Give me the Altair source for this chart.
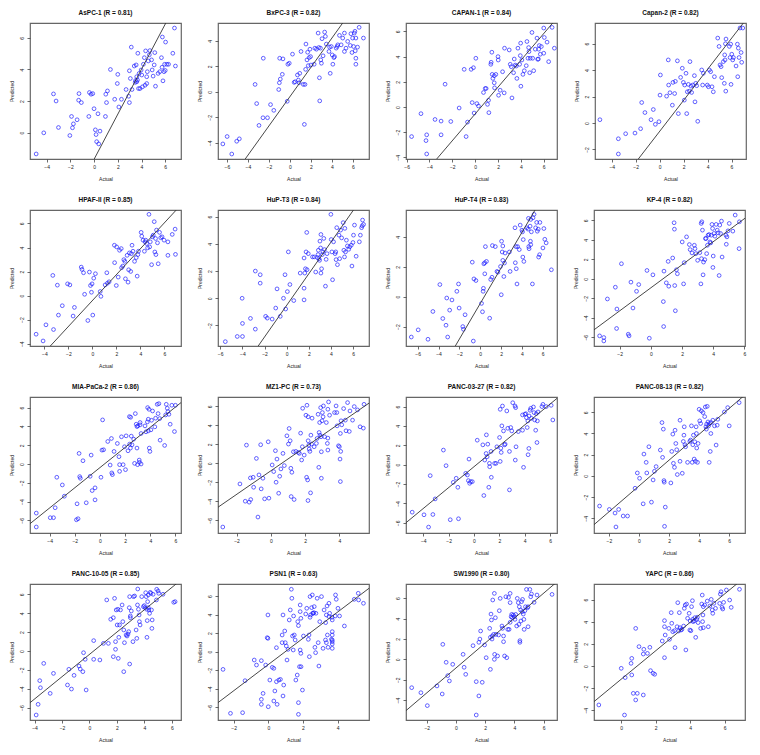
import altair as alt
import pandas as pd

NAMES = ["AsPC-1", "BxPC-3", "CAPAN-1", "Capan-2",
         "HPAF-II", "HuP-T3", "HuP-T4", "KP-4",
         "MIA-PaCa-2", "MZ1-PC", "PANC-03-27", "PANC-08-13",
         "PANC-10-05", "PSN1", "SW1990", "YAPC"]
R_VALUES = ["0.81", "0.82", "0.84", "0.82", "0.85", "0.84", "0.83", "0.82",
            "0.86", "0.73", "0.82", "0.82", "0.85", "0.63", "0.80", "0.86"]
X_DOMAINS = [[-5.4, 7.33], [-6.84, 7.53], [-6.05, 7.16], [-5.4, 7.21],
             [-5.2, 7.38], [-6.2, 7.43], [-7.12, 7.37], [-3.65, 6.04],
             [-5.56, 6.44], [-3.08, 5.73], [-5.36, 6.55], [-2.99, 7.05],
             [-4.33, 6.67], [-2.9, 5.81], [-3.42, 6.92], [-1.58, 7.18]]
Y_DOMAINS = [[-1.68, 6.95], [-5.26, 5.39], [-4.13, 6.67], [-2.72, 7.56],
             [-4.19, 7.12], [-3.51, 6.49], [-3.3, 5.8], [-6.9, 7.07],
             [-7.35, 7.14], [-7.34, 6.99], [-7.05, 6.99], [-5.38, 7.44],
             [-7.31, 7.1], [-7.37, 7.3], [-5.95, 7.39], [-4.88, 7.41]]
INTERCEPTS = [-1.7, -0.38, -0.55, -0.63, -0.41, -0.52, -0.46, -0.92,
              -0.38, -0.79, -0.21, -0.95, -0.36, -1.39, -0.85, -1.19]
SLOPES = [1.43, 1.148, 1.064, 1.172, 1.078, 1.163, 1.189, 1.183,
          1.075, 1.245, 1.078, 1.219, 1.182, 1.416, 1.222, 1.284]

ASPC1 = [[-4.88,-1.36],[-4.24,-0.02],[-3.42,2.45],[-3.2,2.0],[-3.0,0.32],[-2.04,-0.19],[-1.9,1.02],[-1.82,0.3],
         [-1.74,0.55],[-1.43,0.81],[-1.27,2.47],[-1.3,2.05],[-1.07,1.9],[-0.44,1.02],[-0.39,2.54],[-0.25,2.43],
         [-0.11,2.47],[0.0,1.51],[0.11,0.17],[0.17,-0.13],[0.22,-0.58],[0.33,1.19],[0.39,-0.72],[0.5,0.09],
         [0.96,1.02],[0.99,2.43],[1.05,1.9],[1.13,2.64],[1.38,4.0],[1.74,2.11],[1.96,3.11],[2.0,3.69],
         [2.09,1.62],[2.31,2.11],[2.7,2.73],[2.92,2.3],[2.98,1.9],[2.98,3.92],[3.06,3.43],[3.14,5.42],
         [3.2,2.73],[3.39,4.22],[3.47,3.18],[3.55,4.29],[3.6,3.54],[3.66,3.33],[3.69,5.03],[3.75,2.79],
         [3.8,3.75],[3.88,2.79],[3.97,3.97],[4.02,3.65],[4.08,2.9],[4.16,4.33],[4.24,4.75],[4.3,3.0],
         [4.35,5.18],[4.44,3.54],[4.44,3.11],[4.49,3.86],[4.57,4.54],[4.66,4.93],[4.71,5.2],[4.85,4.61],
         [4.9,3.97],[4.98,3.58],[5.07,4.29],[5.12,5.07],[5.18,2.94],[5.4,3.75],[5.54,3.86],[5.68,4.75],
         [5.73,4.14],[5.76,6.06],[5.81,3.28],[5.9,3.86],[5.95,4.33],[6.0,3.94],[6.03,5.74],[6.14,4.33],
         [6.28,4.33],[6.64,5.03],[6.78,6.63],[6.86,4.22],[3.6,3.22],[3.5,3.3]]
BXPC3 = [[-6.38,-4.08],[-5.97,-3.5],[-5.53,-4.87],[-5.06,-3.87],[-4.81,-3.68],[-3.31,0.58],[-3.16,-0.92],
         [-2.94,-2.63],[-2.56,-2.03],[-2.53,2.63],[-2.13,-2.03],[-1.84,-1.0],[-1.53,-1.45],[-1.06,0.18],
         [-1.0,0.71],[-0.97,2.63],[-0.91,1.0],[-0.72,1.37],[-0.66,2.58],[-0.25,-0.74],[-0.19,2.16],[-0.06,2.24],
         [0.25,2.95],[0.41,0.74],[0.5,0.79],[0.72,1.32],[0.81,0.92],[0.88,0.71],[0.94,1.45],[1.06,3.16],
         [1.28,0.58],[1.38,-2.55],[1.44,0.58],[1.5,1.76],[1.53,3.74],[1.63,2.5],[1.69,3.1],[1.75,2.05],
         [1.84,2.68],[1.91,3.34],[1.97,2.76],[2.0,2.1],[2.31,2.16],[2.38,3.42],[2.53,3.34],[2.69,4.6],
         [2.75,3.47],[2.81,1.1],[2.84,-0.71],[2.91,3.42],[2.94,2.5],[3.0,2.24],[3.06,4.16],[3.16,2.82],
         [3.31,4.68],[3.38,4.34],[3.47,3.74],[3.72,3.16],[3.78,3.5],[3.84,1.45],[3.94,3.55],[4.03,2.89],
         [4.09,2.16],[4.19,2.68],[4.25,2.76],[4.41,3.42],[4.5,3.55],[4.56,3.68],[4.72,4.42],[4.88,3.68],
         [5.03,4.21],[5.19,4.6],[5.19,3.16],[5.34,3.42],[5.5,3.95],[5.75,3.63],[5.81,4.55],[5.91,3.08],
         [5.97,4.21],[6.06,3.55],[6.13,4.6],[6.19,4.74],[6.22,3.21],[6.28,2.63],[6.28,2.16],[6.28,4.21],
         [6.44,3.5],[6.59,5.05],[7.0,4.21]]
CAPAN1 = [[-5.56,-2.35],[-4.74,-0.53],[-4.3,-2.67],[-4.24,-2.21],[-4.24,-3.73],[-3.51,-0.99],[-2.98,-1.12],
          [-2.98,-2.21],[-2.63,1.81],[-2.13,-1.15],[-1.4,-0.08],[-0.96,2.99],[-0.79,-2.35],[-0.67,-1.2],
          [-0.35,2.99],[-0.26,0.35],[-0.15,3.12],[-0.09,-0.48],[0.06,3.87],[0.15,0.27],[0.29,0.08],[0.73,1.15],
          [0.88,1.47],[0.96,1.47],[1.08,0.21],[1.17,0.53],[1.2,-0.45],[1.37,3.39],[1.4,3.55],[1.46,4.35],
          [1.49,2.59],[1.55,2.27],[1.67,2.48],[1.67,1.92],[1.7,1.52],[1.81,2.59],[2.0,4.0],[2.02,3.73],
          [2.05,0.93],[2.19,1.33],[2.4,2.8],[2.54,1.12],[2.57,4.67],[2.98,4.53],[3.07,3.39],[3.16,3.2],
          [3.22,0.72],[3.36,2.72],[3.42,3.81],[3.51,3.33],[3.6,3.25],[3.65,2.27],[3.74,4.67],[3.89,3.39],
          [3.95,4.08],[3.98,5.07],[4.0,1.65],[4.09,3.73],[4.18,2.59],[4.3,2.88],[4.47,3.28],[4.53,5.2],
          [4.62,3.87],[4.68,4.72],[4.71,4.4],[4.77,2.72],[4.82,3.87],[4.97,5.92],[5.03,3.87],[5.12,2.88],
          [5.26,4.59],[5.41,5.47],[5.47,3.79],[5.53,3.81],[5.56,4.59],[5.61,4.88],[5.7,4.19],[5.79,4.8],
          [6.0,4.27],[6.0,6.27],[6.05,5.52],[6.29,5.15],[6.43,3.6],[6.73,6.32],[6.93,4.67]]
CAPAN2 = [[-4.99,0.25],[-3.45,-1.19],[-3.45,-2.34],[-2.84,-0.81],[-2.06,-0.76],[-1.59,-0.43],[-1.5,1.55],
          [-1.23,0.79],[-0.72,0.25],[-0.53,1.02],[-0.36,-0.1],[-0.06,0.1],[0.03,2.11],[0.06,3.63],[0.58,2.03],
          [0.72,4.77],[0.75,2.87],[0.86,2.29],[1.06,1.35],[1.11,3.07],[1.25,2.23],[1.31,3.15],[1.48,4.7],
          [1.56,0.71],[1.75,3.45],[1.89,4.14],[1.98,3.07],[2.06,1.73],[2.09,2.87],[2.2,3.76],[2.26,0.71],
          [2.31,2.36],[2.4,2.92],[2.48,2.41],[2.53,4.64],[2.62,2.79],[2.67,2.31],[2.76,2.87],[2.9,3.58],
          [2.95,1.6],[3.01,3.0],[3.09,2.82],[3.18,0.13],[3.51,4.01],[3.59,2.87],[3.65,3.76],[3.98,2.87],
          [4.07,2.74],[4.15,4.01],[4.26,3.88],[4.37,2.74],[4.48,2.36],[4.57,3.5],[4.85,6.42],[4.96,5.79],
          [5.04,4.39],[5.13,4.26],[5.18,3.43],[5.32,4.64],[5.4,3.0],[5.43,5.15],[5.46,4.77],[5.49,5.99],
          [5.52,2.41],[5.54,6.35],[5.82,5.79],[5.88,4.95],[5.93,5.96],[5.96,2.92],[6.02,5.2],[6.1,4.77],
          [6.16,4.95],[6.38,4.31],[6.49,5.96],[6.52,3.5],[6.57,5.66],[6.63,4.95],[6.71,7.18],[6.8,5.33],
          [6.85,4.59],[6.94,7.18]]
HPAF2 = [[-4.69,-3.21],[-4.11,-3.77],[-3.87,-2.43],[-3.3,1.68],[-3.24,-2.82],[-2.92,0.87],[-2.83,-1.62],
         [-2.51,-0.84],[-2.07,0.98],[-1.88,0.89],[-1.61,-1.7],[-1.5,-0.98],[-0.93,2.37],[-0.87,2.18],
         [-0.74,1.9],[-0.65,0.11],[-0.38,-2.07],[-0.25,1.96],[-0.16,0.84],[-0.08,0.28],[-0.03,0.98],
         [0.03,-1.62],[0.11,1.45],[0.25,1.82],[0.65,0.34],[0.71,-0.06],[1.06,0.89],[1.2,1.9],[1.25,1.03],
         [1.39,1.15],[1.85,2.74],[1.83,4.19],[1.99,0.84],[2.02,4.05],[2.15,1.54],[2.26,3.77],[2.4,3.91],
         [2.43,2.32],[2.53,2.46],[2.62,2.99],[2.7,2.85],[2.75,1.4],[2.89,3.35],[2.97,1.12],[3.02,2.15],
         [3.08,3.55],[3.19,2.01],[3.24,3.49],[3.3,4.19],[3.38,3.69],[3.51,2.85],[3.65,3.16],[3.73,1.62],
         [3.79,3.41],[3.84,3.69],[4.06,5.26],[4.11,4.94],[4.22,4.61],[4.33,3.69],[4.39,4.47],[4.44,4.61],
         [4.52,4.33],[4.6,3.97],[4.71,6.76],[4.77,4.05],[4.82,4.47],[4.93,2.57],[4.99,4.89],[5.07,5.03],
         [5.15,6.15],[5.2,3.63],[5.26,4.75],[5.29,3.41],[5.34,5.45],[5.42,4.39],[5.48,2.65],[5.59,5.26],
         [5.69,4.81],[5.8,4.89],[5.97,4.61],[6.29,4.47],[6.29,3.35],[6.65,5.09],[6.89,5.53],[6.92,3.43]]
HUPT3 = [[-5.54,-3.19],[-4.46,-2.81],[-4.02,0.0],[-3.99,-1.85],[-3.99,-2.81],[-3.27,-1.48],[-2.83,-2.27],
         [-2.83,2.0],[-2.39,1.73],[-2.39,1.11],[-1.9,-1.33],[-1.75,-1.46],[-1.31,-1.53],[-0.99,-0.72],
         [-0.87,0.69],[-0.58,-1.33],[-0.29,0.0],[-0.15,1.73],[-0.09,-0.79],[0.06,0.49],[0.15,3.41],[0.29,1.01],
         [0.64,-0.17],[1.22,1.85],[1.57,0.74],[1.57,-0.12],[1.57,2.96],[1.63,1.85],[1.69,2.17],[1.75,3.41],
         [1.81,4.84],[1.84,2.1],[1.95,3.28],[2.33,3.04],[2.48,3.04],[2.62,1.93],[2.77,2.99],[2.83,3.21],
         [2.86,3.53],[2.92,2.91],[2.97,2.79],[3.0,4.2],[3.06,3.7],[3.09,1.85],[3.09,4.69],[3.15,2.17],
         [3.21,3.21],[3.27,3.41],[3.35,4.4],[3.41,3.58],[3.5,0.89],[3.56,2.86],[3.64,3.28],[3.99,6.17],
         [4.02,4.32],[4.08,3.41],[4.14,1.36],[4.23,4.15],[4.37,3.28],[4.43,3.41],[4.46,2.84],[4.52,5.19],
         [4.58,2.47],[4.72,4.64],[4.78,2.91],[4.87,5.01],[4.96,4.44],[5.1,5.56],[5.16,3.53],[5.22,3.04],
         [5.25,5.14],[5.31,3.41],[5.39,4.27],[5.48,3.85],[5.6,3.6],[5.69,3.78],[5.83,3.9],[5.89,2.37],
         [5.98,4.1],[6.03,4.64],[6.12,5.38],[6.27,3.09],[6.56,4.15],[6.65,4.64],[6.76,5.19],[6.85,5.75],
         [6.94,5.43],[6.82,5.33]]
HUPT4 = [[-6.61,-2.7],[-5.95,-2.22],[-5.01,-2.85],[-4.54,-0.99],[-3.87,0.81],[-3.59,-1.46],[-3.28,-1.91],
         [-3.21,-0.09],[-3.12,-2.7],[-2.93,-0.9],[-2.71,-0.22],[-2.24,0.36],[-2.08,0.85],[-2.02,-0.76],
         [-1.67,-2.0],[-1.61,-2.18],[-1.45,-1.21],[-0.76,2.31],[-0.66,-2.97],[-0.6,1.19],[-0.41,1.08],
         [0.13,-0.45],[0.22,-1.01],[0.28,0.36],[0.31,0.56],[0.35,2.2],[0.44,2.27],[0.44,1.53],[0.5,3.35],
         [0.6,2.36],[0.91,-1.44],[1.01,1.15],[1.13,1.3],[1.17,3.42],[1.45,3.35],[1.61,1.69],[1.7,1.64],
         [1.95,2.02],[2.02,0.13],[2.05,3.71],[2.11,2.99],[2.17,3.39],[2.17,2.43],[2.27,1.35],[2.33,2.25],
         [2.39,2.92],[2.8,2.99],[2.87,1.69],[3.34,4.61],[3.37,2.27],[3.43,3.35],[3.46,1.87],[3.53,0.85],
         [3.59,3.35],[3.75,3.15],[3.84,4.79],[4.0,4.45],[4.06,4.34],[4.09,2.65],[4.13,3.82],[4.19,2.36],
         [4.47,4.61],[4.6,4.52],[4.63,5.24],[4.66,3.35],[4.69,3.21],[4.79,4.72],[4.82,3.71],[4.85,5.17],
         [4.85,3.48],[4.91,4.34],[5.01,0.85],[5.07,5.28],[5.17,5.51],[5.32,4.61],[5.42,4.97],[5.48,4.38],
         [5.57,4.52],[5.61,2.65],[5.7,2.81],[5.73,4.97],[6.02,3.26],[6.11,4.56],[6.2,3.84],[6.33,3.6],
         [6.83,1.8]]
KP4 = [[-3.29,-5.86],[-3.02,-6.03],[-3.02,-6.38],[-2.79,-2.07],[-2.28,-0.86],[-2.2,-5.1],[-2.18,-3.1],
       [-1.89,1.55],[-1.45,-5.69],[-1.4,-5.86],[-1.28,-0.34],[-1.15,-3.0],[-0.92,-1.28],[-0.78,-0.59],
       [-0.25,0.86],[-0.1,-6.1],[0.13,0.41],[0.8,-2.34],[0.82,-4.9],[0.84,0.79],[0.99,-0.41],[1.11,1.79],
       [1.15,-0.76],[1.4,2.14],[1.49,5.76],[1.51,5.1],[1.53,-0.69],[1.57,-3.28],[1.64,0.93],[1.7,0.52],
       [2.01,3.79],[2.1,-0.52],[2.14,1.66],[2.29,4.31],[2.47,3.52],[2.52,3.0],[2.64,2.66],[2.79,3.45],
       [2.83,3.1],[2.89,2.59],[3.0,1.9],[3.14,2.69],[3.21,-0.52],[3.23,5.69],[3.25,2.07],[3.27,5.86],
       [3.31,5.0],[3.35,0.41],[3.38,1.72],[3.46,1.97],[3.5,4.14],[3.54,4.14],[3.58,2.59],[3.63,3.45],
       [3.67,4.48],[3.73,4.55],[3.79,3.79],[3.84,3.69],[3.88,4.48],[3.92,5.59],[3.96,5.17],[3.98,1.17],
       [4.0,2.34],[4.05,4.66],[4.11,4.38],[4.19,5.59],[4.26,5.0],[4.32,4.72],[4.38,0.34],[4.42,5.52],
       [4.47,4.66],[4.53,5.93],[4.57,2.24],[4.82,4.48],[4.84,3.55],[4.88,4.31],[4.95,4.93],[5.03,5.69],
       [5.26,4.9],[5.41,6.55],[5.66,3.1],[5.68,5.86]]
MIAPACA2 = [[-5.06,-5.23],[-5.06,-6.71],[-3.95,-5.72],[-3.69,-5.72],[-3.56,-4.66],[-3.43,-1.41],[-2.99,-2.23],
            [-2.83,-3.43],[-1.87,-5.94],[-1.74,-5.83],[-1.82,-4.24],[-1.66,1.13],[-1.61,-1.34],[-1.56,-1.52],
            [-1.35,0.35],[-1.09,-4.13],[-0.78,-1.31],[-0.7,0.95],[-0.62,-2.83],[-0.39,-3.82],[-0.39,-2.54],
            [0.08,-1.41],[0.16,1.48],[0.21,4.7],[0.29,1.52],[0.62,2.4],[0.81,-0.11],[0.91,2.72],[0.94,-0.95],
            [0.99,-1.13],[1.12,1.34],[1.38,2.19],[1.51,0.78],[1.56,-0.07],[1.56,-0.78],[1.71,2.9],[1.84,-0.07],
            [1.95,1.84],[2.03,-0.6],[2.08,3.0],[2.23,1.41],[2.34,5.05],[2.36,2.12],[2.42,1.7],[2.44,4.98],
            [2.49,2.97],[2.55,2.05],[2.68,2.65],[2.75,0.07],[2.81,5.37],[2.88,4.24],[2.94,3.99],[2.94,1.7],
            [2.99,-0.07],[3.01,4.06],[3.12,0.42],[3.14,0.18],[3.19,4.42],[3.19,4.17],[3.27,0.0],[3.27,3.25],
            [3.58,4.06],[3.66,3.43],[3.77,4.49],[3.79,6.01],[3.84,4.77],[3.84,3.53],[3.9,5.83],[3.92,1.7],
            [3.97,1.34],[4.05,3.64],[4.1,4.66],[4.18,5.65],[4.36,3.96],[4.42,4.88],[4.55,6.36],[4.62,5.37],
            [4.68,6.43],[4.75,4.84],[4.78,2.54],[5.14,1.98],[5.22,5.23],[5.27,6.36],[5.35,5.94],[5.4,5.58],
            [5.48,5.3],[5.58,4.24],[5.71,6.26],[5.92,3.46],[6.0,6.26]]
MZ1PC = [[-2.8,-6.71],[-1.8,-2.17],[-1.49,-3.99],[-1.42,1.92],[-1.26,-4.09],[-1.19,-1.54],[-1.17,-3.81],
         [-1.03,-1.47],[-1.0,-2.52],[-0.84,0.52],[-0.75,-5.66],[-0.69,-1.22],[-0.59,1.96],[-0.56,-2.69],
         [-0.46,-1.57],[-0.36,-3.74],[-0.15,2.27],[-0.11,-3.67],[0.08,-0.17],[0.17,-0.87],[0.27,1.33],
         [0.31,-1.99],[0.36,0.45],[0.46,-3.15],[0.52,-1.36],[0.59,-0.59],[0.71,1.05],[0.79,-0.24],[0.94,2.9],
         [1.03,2.03],[1.07,3.67],[1.13,2.38],[1.17,-0.52],[1.19,-3.5],[1.23,-0.94],[1.32,1.22],[1.36,-3.81],
         [1.46,1.26],[1.61,1.15],[1.67,1.05],[1.74,3.18],[1.8,0.35],[1.84,1.75],[1.86,5.8],[1.95,0.87],
         [2.05,5.07],[2.09,-1.47],[2.11,6.12],[2.15,-1.75],[2.17,-3.92],[2.18,2.38],[2.18,4.9],[2.22,1.92],
         [2.24,1.5],[2.28,1.26],[2.32,-3.11],[2.34,2.97],[2.38,2.03],[2.41,4.76],[2.53,1.75],[2.66,2.1],
         [2.7,2.62],[2.76,5.17],[2.8,-0.42],[2.82,3.25],[2.85,4.3],[2.87,2.97],[2.91,5.87],[2.93,2.8],
         [2.95,1.22],[2.95,-1.57],[2.99,4.48],[3.01,5.35],[3.05,4.9],[3.07,6.05],[3.14,2.8],[3.24,4.3],
         [3.3,2.1],[3.33,2.66],[3.33,1.4],[3.33,5.7],[3.37,6.47],[3.43,5.07],[3.72,5.35],[3.81,6.05],
         [3.85,5.35],[3.87,3.95],[3.95,1.85],[4.0,1.75],[4.04,0.45],[4.06,-1.92],[4.06,3.15],[4.08,1.26],
         [4.1,4.48],[4.14,4.06],[4.25,5.77],[4.35,4.55],[4.39,3.43],[4.48,6.4],[4.58,3.36],[4.62,5.52],
         [4.77,4.55],[4.87,5.98],[5.06,5.63],[5.21,3.85],[5.4,3.71],[5.44,6.22]]
PANC0327 = [[-4.87,-4.9],[-3.94,-5.17],[-3.58,-6.44],[-3.45,-1.13],[-3.24,-5.14],[-3.06,-3.53],[-2.41,1.51],
            [-2.2,-0.1],[-1.87,-5.68],[-1.63,-1.82],[-1.4,-1.4],[-1.27,-2.33],[-1.22,-5.58],[-0.65,-0.89],
            [-0.52,-1.06],[-0.44,-1.64],[-0.39,0.58],[-0.34,-1.92],[-0.26,-1.75],[-0.13,-1.75],[0.26,2.53],
            [0.7,2.05],[0.78,-3.18],[0.85,0.48],[0.96,1.16],[0.98,3.08],[1.04,0.82],[1.09,2.12],[1.17,-2.33],
            [1.22,0.14],[1.24,-0.21],[1.35,1.37],[1.37,-1.3],[1.63,0.14],[1.74,0.14],[1.81,1.85],[2.02,2.81],
            [2.07,5.72],[2.07,0.34],[2.12,1.71],[2.15,1.27],[2.2,4.01],[2.25,6.06],[2.33,3.49],[2.41,2.05],
            [2.46,2.12],[2.59,5.55],[2.67,3.76],[2.8,1.37],[2.8,-2.6],[2.9,3.84],[2.98,3.49],[3.06,6.4],
            [3.24,6.06],[3.26,0.48],[3.29,5.89],[3.32,1.85],[3.5,3.42],[3.83,3.56],[3.83,5.14],[3.91,-0.27],
            [4.02,5.21],[4.09,5.27],[4.14,4.86],[4.2,3.84],[4.25,4.52],[4.27,1.03],[4.33,1.68],[4.35,5.03],
            [4.43,5.62],[4.48,5.82],[4.53,4.79],[4.69,5.96],[4.74,5.38],[4.79,4.62],[4.87,3.56],[4.92,5.27],
            [4.97,2.29],[5.0,4.52],[5.05,5.45],[5.36,6.0],[5.44,6.23],[5.7,6.0],[6.09,6.13],[6.22,4.62]]
PANC0813 = [[-2.62,-2.84],[-1.97,-3.16],[-1.59,-3.5],[-1.53,-4.81],[-1.35,-3.16],[-1.05,-3.78],[-0.76,-3.78],
            [-0.26,-1.16],[-0.11,0.28],[0.04,-0.22],[0.28,-2.63],[0.33,2.06],[0.48,1.28],[0.52,0.28],[0.66,2.75],
            [0.83,-2.47],[0.94,-0.38],[1.03,0.44],[1.14,0.88],[1.42,2.44],[1.53,5.03],[1.57,1.75],[1.62,4.41],
            [1.66,-0.44],[1.68,-0.59],[1.75,-2.94],[1.7,-4.75],[2.12,-0.66],[2.18,2.31],[2.25,3.94],[2.29,1.19],
            [2.36,0.81],[2.4,4.31],[2.45,3.06],[2.51,2.47],[2.55,0.13],[2.73,5.25],[2.73,1.38],[2.88,0.25],
            [2.95,3.25],[2.99,3.84],[3.01,4.63],[3.06,2.94],[3.1,2.75],[3.23,1.28],[3.38,3.25],[3.43,3.38],
            [3.49,4.72],[3.54,1.28],[3.58,2.94],[3.62,3.84],[3.67,1.59],[3.71,3.22],[3.76,1.38],[3.8,4.63],
            [3.82,4.0],[3.84,2.63],[3.89,1.28],[3.93,3.06],[4.0,6.28],[4.04,5.19],[4.1,4.94],[4.15,6.13],
            [4.26,5.97],[4.37,5.59],[4.41,6.5],[4.45,4.63],[4.48,4.41],[4.5,4.88],[4.54,6.56],[4.59,5.09],
            [4.63,4.72],[4.67,1.28],[4.69,4.94],[4.74,2.31],[4.78,4.0],[4.8,5.03],[4.91,5.25],[5.02,4.72],
            [5.13,2.91],[5.2,4.78],[5.24,5.34],[5.68,6.03],[5.9,6.44],[6.0,4.72],[6.66,6.91]]
PANC1005 = [[-3.88,-6.78],[-3.74,-5.65],[-3.62,-3.14],[-3.57,-3.89],[-3.33,-1.31],[-2.86,-4.49],[-2.62,-2.37],
            [-1.6,-3.6],[-1.5,-1.94],[-1.31,-4.03],[-1.12,-2.58],[-0.76,-1.59],[-0.67,-1.91],[-0.48,-2.19],
            [-0.43,-0.18],[-0.31,-0.88],[-0.24,-4.13],[0.31,-0.88],[0.31,1.1],[0.76,-0.95],[1.02,0.81],
            [1.26,5.41],[1.38,0.81],[1.55,3.36],[1.74,3.53],[1.74,-0.6],[1.83,5.58],[1.9,0.18],[1.9,0.99],
            [1.95,4.35],[2.02,2.76],[2.07,4.42],[2.1,-0.78],[2.14,1.45],[2.19,2.76],[2.26,4.35],[2.38,4.88],
            [2.43,3.11],[2.5,2.23],[2.5,-2.19],[2.55,0.88],[2.67,1.7],[2.74,1.59],[2.81,1.8],[2.86,2.05],
            [2.9,4.59],[2.93,-1.38],[2.93,5.76],[2.98,3.71],[2.98,3.53],[3.05,4.24],[3.17,0.99],[3.21,5.76],
            [3.29,5.83],[3.4,2.23],[3.45,1.34],[3.5,4.88],[3.52,6.57],[3.57,4.42],[3.62,3.82],[3.64,3.11],
            [3.69,2.76],[3.81,5.76],[3.93,4.7],[4.0,4.81],[4.05,4.59],[4.1,6.18],[4.14,5.76],[4.17,4.42],
            [4.19,1.45],[4.21,3.22],[4.24,5.23],[4.29,4.59],[4.29,5.94],[4.33,4.35],[4.38,3.99],[4.43,6.22],
            [4.48,6.11],[4.52,4.35],[4.55,2.4],[4.57,3.29],[4.64,6.01],[4.88,5.41],[4.9,6.54],[5.0,6.36],
            [5.05,6.11],[5.36,6.01],[6.14,5.16],[6.24,5.23]]
PSN1 = [[-2.61,-1.91],[-2.18,-6.65],[-1.48,-6.58],[-1.34,-3.13],[-0.81,-0.9],[-0.68,-1.44],[-0.4,-0.97],
        [-0.4,-5.14],[-0.3,-4.5],[-0.4,-5.68],[-0.15,-1.44],[-0.06,1.51],[-0.02,1.44],[0.0,-5.94],[-0.02,3.96],
        [0.09,-3.06],[0.23,-1.69],[0.32,-1.8],[0.32,-5.32],[0.38,-4.24],[0.47,0.43],[0.47,-3.24],[0.51,-5.68],
        [0.61,-3.06],[0.7,-2.99],[0.8,1.8],[0.8,0.97],[0.85,3.96],[0.85,-4.78],[0.89,-3.6],[0.95,2.23],
        [0.98,0.97],[1.04,0.61],[1.08,-0.9],[1.14,0.25],[1.21,3.42],[1.27,4.5],[1.33,6.73],[1.36,5.76],
        [1.4,1.69],[1.44,0.18],[1.46,3.85],[1.5,1.8],[1.55,1.26],[1.59,-3.06],[1.67,-2.52],[1.7,3.24],
        [1.74,2.81],[1.74,-5.5],[1.74,-6.76],[1.8,-1.62],[1.84,5.04],[1.84,4.32],[1.84,0.18],[1.88,-0.18],
        [1.88,3.6],[1.89,-1.62],[1.97,-4.14],[2.03,1.69],[2.16,4.06],[2.22,4.68],[2.31,1.33],[2.35,1.8],
        [2.37,-0.54],[2.41,3.71],[2.41,5.94],[2.44,3.96],[2.5,4.75],[2.54,6.12],[2.56,4.14],[2.59,4.14],
        [2.63,4.21],[2.65,4.86],[2.69,0.47],[2.73,-0.11],[2.75,4.14],[2.82,5.76],[2.88,0.97],[2.92,-1.55],
        [2.97,3.24],[3.07,5.94],[3.16,0.36],[3.22,4.5],[3.3,1.26],[3.31,3.13],[3.35,0.97],[3.35,3.96],
        [3.39,4.93],[3.41,1.8],[3.45,0.47],[3.5,5.22],[3.5,3.78],[3.54,4.14],[3.64,1.33],[3.67,3.71],
        [3.69,3.42],[3.69,2.16],[3.69,1.8],[3.69,1.26],[3.69,1.08],[3.69,0.83],[3.69,0.36],[3.86,3.85],
        [3.88,6.12],[3.92,5.65],[4.02,4.68],[4.11,3.85],[4.39,2.77],[4.96,5.65],[5.19,6.3],[5.21,5.58],
        [5.49,5.22]]
SW1990 = [[-3.03,-2.78],[-2.4,-3.27],[-1.96,-4.54],[-1.3,-2.61],[-0.94,-3.4],[-0.9,1.47],[-0.67,-0.29],
          [-0.56,-1.6],[-0.45,-2.12],[-0.22,-0.49],[0.49,0.49],[0.56,-0.78],[0.67,-1.47],[1.17,1.34],
          [1.39,-2.19],[1.39,-5.46],[1.57,-3.59],[1.57,1.67],[1.64,1.99],[1.69,2.78],[1.8,-2.25],[1.96,1.41],
          [2.07,0.16],[2.31,3.04],[2.36,2.16],[2.36,-0.98],[2.4,4.44],[2.43,3.86],[2.47,1.99],[2.49,2.29],
          [2.52,5.82],[2.58,2.45],[2.63,6.47],[2.63,0.0],[2.65,0.49],[2.7,4.08],[2.74,2.45],[2.85,0.33],
          [2.92,2.39],[2.97,4.77],[3.03,5.98],[3.15,3.27],[3.19,3.04],[3.26,2.29],[3.26,1.73],[3.33,0.33],
          [3.42,6.14],[3.48,0.16],[3.55,2.94],[3.6,6.08],[3.64,2.94],[3.71,5.56],[3.71,3.63],[3.71,6.47],
          [3.78,4.18],[3.82,4.41],[3.87,4.08],[3.93,4.35],[4.0,4.18],[4.04,3.92],[4.09,4.41],[4.16,3.27],
          [4.2,5.98],[4.27,5.56],[4.31,3.43],[4.34,5.16],[4.38,1.83],[4.38,1.67],[4.43,4.84],[4.45,3.76],
          [4.49,5.66],[4.54,4.67],[4.56,5.88],[4.61,4.44],[4.65,3.92],[4.67,2.94],[4.72,4.77],[4.76,5.16],
          [4.83,6.86],[4.9,5.06],[4.94,3.2],[4.94,5.16],[5.06,6.86],[5.12,6.14],[5.17,6.41],[5.35,5.59],
          [5.55,6.31],[6.58,6.37]]
YAPC = [[-1.3,-3.52],[0.0,-0.21],[0.19,-4.43],[0.23,-1.05],[0.57,0.24],[0.61,0.69],[0.61,-0.81],[0.7,-2.47],
        [0.84,-3.07],[0.84,3.4],[0.93,-2.47],[1.03,1.75],[1.28,1.08],[1.28,-2.62],[1.31,1.51],[1.52,1.14],
        [1.66,1.69],[1.7,-0.42],[1.85,-0.66],[1.94,-0.75],[2.38,2.26],[2.51,4.1],[2.51,3.55],[2.55,2.8],
        [2.51,0.75],[2.76,3.4],[2.8,2.41],[2.9,4.82],[2.93,3.86],[2.99,3.1],[3.09,3.19],[3.12,1.66],
        [3.24,3.55],[3.28,5.72],[3.33,3.16],[3.37,4.82],[3.41,3.46],[3.47,3.25],[3.52,3.31],[3.62,3.61],
        [3.66,5.21],[3.71,5.51],[3.75,1.45],[3.79,5.6],[3.85,4.31],[3.94,4.76],[3.98,3.25],[4.0,4.07],
        [4.04,3.19],[4.08,5.36],[4.13,5.9],[4.15,4.22],[4.17,4.01],[4.23,4.07],[4.27,4.37],[4.32,2.59],
        [4.38,4.22],[4.42,4.4],[4.46,3.92],[4.61,3.4],[4.67,5.6],[4.7,6.41],[4.72,4.01],[4.74,4.61],
        [4.76,5.36],[4.76,3.46],[4.84,5.51],[4.99,5.87],[5.05,3.55],[5.14,5.42],[5.22,6.02],[5.28,5.06],
        [5.31,4.76],[5.37,5.66],[5.47,5.21],[5.71,5.66],[5.75,6.5],[5.79,6.71],[5.85,5.3],[5.89,5.15],
        [5.94,5.75],[6.1,6.87],[6.29,5.96],[6.38,5.3],[6.86,6.93]]

PANEL_DATA = [ASPC1, BXPC3, CAPAN1, CAPAN2, HPAF2, HUPT3, HUPT4, KP4,
              MIAPACA2, MZ1PC, PANC0327, PANC0813, PANC1005, PSN1, SW1990, YAPC]

FONT = "Liberation Sans"
W, H = 151, 136


def ticks(lo, hi):
    return [v for v in range(-10, 12, 2) if lo <= v <= hi]


def panel(i):
    pts = pd.DataFrame(PANEL_DATA[i], columns=["Actual", "Predicted"])
    x0, x1 = X_DOMAINS[i]
    line = pd.DataFrame({
        "Actual": [x0, x1],
        "Predicted": [INTERCEPTS[i] + SLOPES[i] * x0, INTERCEPTS[i] + SLOPES[i] * x1],
    })
    xs = alt.Scale(domain=X_DOMAINS[i], nice=False, zero=False)
    ys = alt.Scale(domain=Y_DOMAINS[i], nice=False, zero=False)
    xax = alt.Axis(values=ticks(*X_DOMAINS[i]), title="Actual", titlePadding=7,
                   labelPadding=2, labelOverlap=False, labelFlush=False)
    yax = alt.Axis(values=ticks(*Y_DOMAINS[i]), title="Predicted", labelAngle=270,
                   labelAlign="center", labelBaseline="bottom", labelPadding=3,
                   titlePadding=5, labelOverlap=False, labelFlush=False)
    p = alt.Chart(pts).mark_point(shape="circle", filled=False, color="#1a1aff",
                                  size=14, strokeWidth=0.75, opacity=0.9).encode(
        x=alt.X("Actual:Q", scale=xs, axis=xax),
        y=alt.Y("Predicted:Q", scale=ys, axis=yax),
    )
    l = alt.Chart(line).mark_line(color="#333333", strokeWidth=0.9, clip=True).encode(
        x=alt.X("Actual:Q", scale=xs, axis=xax),
        y=alt.Y("Predicted:Q", scale=ys, axis=yax),
    )
    return alt.layer(p, l).properties(
        width=W, height=H,
        title=alt.TitleParams(f"{NAMES[i]} (R = {R_VALUES[i]})", fontSize=6.5,
                              fontWeight="bold", font=FONT, anchor="middle",
                              offset=7, color="#111"),
    )


rows = [alt.hconcat(*[panel(r * 4 + c) for c in range(4)], spacing=14) for r in range(4)]
chart = alt.vconcat(*rows, spacing=13).properties(
    padding={"left": 0, "top": 0, "right": 0, "bottom": 0}
).configure_axis(
    grid=False, domain=False, tickSize=3, tickColor="#444", tickWidth=0.8,
    labelFontSize=5, titleFontSize=5, titleFontWeight="normal",
    labelFont=FONT, titleFont=FONT, labelColor="#222", titleColor="#222",
    labelOverlap=False, labelFlush=False,
).configure_view(stroke="#666", strokeWidth=1.2)

chart.save("out.html", embed_options={"renderer": "svg", "actions": False})
